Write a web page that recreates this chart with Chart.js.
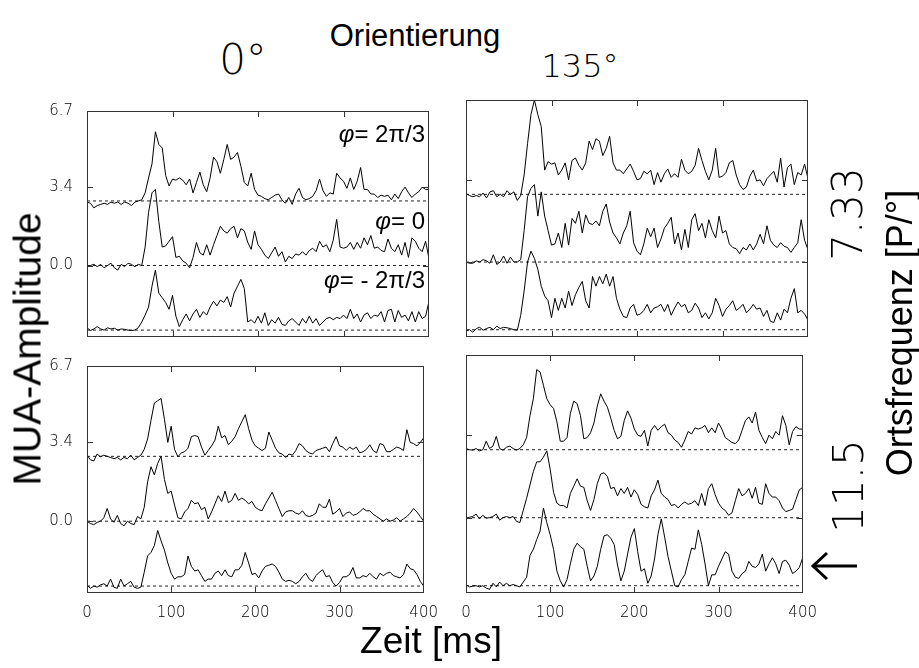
<!DOCTYPE html>
<html>
<head>
<meta charset="utf-8">
<script src="https://cdn.jsdelivr.net/npm/chart.js@4.4.1/dist/chart.umd.min.js"></script>
<style>
  body { margin: 0; width: 919px; height: 668px; background: #fff; position: relative; overflow: hidden;
         font-family: "Liberation Sans", Arial, sans-serif; color: #000; }
  canvas.panel { position: absolute; }
  .lbl { position: absolute; white-space: nowrap; line-height: 1; }
  .thin { font-family: "DejaVu Sans", sans-serif; font-weight: 200; }
  .ctr { transform: translate(-50%, -50%); }
  .rot { transform: translate(-50%, -50%) rotate(-90deg); }
  .phi { right: 494px; transform: translateY(-50%); font-size: 24px; }
</style>
</head>
<body>

<canvas id="tl" class="panel"></canvas>
<canvas id="tr" class="panel"></canvas>
<canvas id="bl" class="panel"></canvas>
<canvas id="br" class="panel"></canvas>

<div class="lbl ctr" style="left:415px; top:35px; font-size:31px;">Orientierung</div>
<div class="lbl ctr thin" style="left:243px; top:60px; font-size:42px;">0°</div>
<div class="lbl ctr thin" style="left:580px; top:66px; font-size:32px;">135°</div>
<div class="lbl rot" style="left:27px; top:349px; font-size:39px;">MUA-Amplitude</div>
<div class="lbl ctr" style="left:431px; top:640px; font-size:37px;">Zeit [ms]</div>
<div class="lbl rot thin" style="left:848px; top:214px; font-size:42px;">7.33</div>
<div class="lbl rot thin" style="left:849px; top:486px; font-size:42px;">11.5</div>
<div class="lbl rot" style="left:900px; top:333px; font-size:36px;">Ortsfrequenz [P/°]</div>

<div class="lbl phi" style="top:134px;"><i>φ</i>= 2π/3</div>
<div class="lbl phi" style="top:221px;"><i>φ</i>= 0</div>
<div class="lbl phi" style="top:280px;"><i>φ</i>= - 2π/3</div>

<svg style="position:absolute; left:0; top:0;" width="919" height="668">
  <g stroke="#000" stroke-width="3" fill="none">
    <line x1="813" y1="566" x2="857" y2="566"/>
    <polyline points="827,553 813,566 827,579"/>
  </g>
</svg>

<script>
// time base in ms (one sample every 4 ms)
var zeit = [0,4,8,12,16,20,24,28,32,36,40,44,48,52,56,60,64,68,72,76,
  80,84,88,92,96,100,104,108,112,116,120,124,128,132,136,140,144,148,152,156,
  160,164,168,172,176,180,184,188,192,196,200,204,208,212,216,220,224,228,232,236,
  240,244,248,252,256,260,264,268,272,276,280,284,288,292,296,300,304,308,312,316,
  320,324,328,332,336,340,344,348,352,356,360,364,368,372,376,380,384,388,392,396,400];

// baseline of each phase trace (phi = 2pi/3, 0, -2pi/3)
var offsets = [2.8, 0, -2.8];
var xTicks = [0, 100, 200, 300, 400];
var yTicks = [0, 3.4, 6.7];

// orientation 0 deg, spatial frequency 7.33
var o0_f733_p2 = [-0.05,-0.1,-0.3,-0.2,-0.15,-0.1,-0.15,-0.05,-0.1,-0.05,
  -0.15,-0.05,-0.1,-0.2,-0.05,0,0.05,0.35,1.0,1.6,
  3.0,2.45,2.3,1.1,0.65,0.95,0.9,1.0,0.9,0.7,
  0.95,0.35,0.8,1.25,0.7,0.4,1.0,1.9,1.7,1.2,
  1.8,2.45,1.8,1.9,2.1,1.5,0.8,0.65,1.2,0.5,
  0.25,0.2,0.1,0.05,0.15,0.25,0.3,0.05,-0.1,0.15,
  -0.15,0.3,0.55,0.15,0.05,0.1,0.2,0.45,0.95,0.45,
  0.2,0.35,0.3,1.2,1.0,0.85,0.55,1.0,0.5,0.85,
  1.45,0.5,0.5,0.3,0.3,0.15,0.25,0.2,0.25,0.05,
  0.3,0.1,0.4,0.6,0.35,0.15,0.3,0.4,0.6,0.5,0.5];
var o0_f733_p0 = [-0.05,0,0.05,-0.05,0.05,-0.1,0,0.1,-0.1,-0.2,
  0.05,-0.05,0.1,0.05,-0.05,0.05,0,0.8,2.3,3.15,
  3.3,1.9,0.8,0.85,1.05,1.25,0.35,0.4,0.2,0.1,
  -0.1,0.35,1.0,0.55,0.45,0.9,0.45,0.9,1.3,1.7,
  1.5,1.4,1.6,1.7,1.2,1.6,1.5,1.0,0.7,1.5,
  0.9,0.7,0.45,0.3,0.55,0.8,0.4,0.6,0.15,0.4,
  0.3,0.5,0.45,0.6,0.45,0.65,0.75,0.6,1.05,0.8,
  0.9,0.6,1.1,2.0,0.8,0.75,0.8,1.0,0.7,1.0,
  0.75,1.2,0.9,1.3,0.75,0.8,0.65,0.6,1.15,0.75,
  0.6,0.9,0.45,1.0,0.35,1.2,1.05,0.75,0.6,1.05,0.3];
var o0_f733_m2 = [0.1,-0.02,0.05,0.15,0.05,0,0.1,0.05,0.08,0,
  0.05,0.03,0,-0.02,0,0.1,0.35,0.65,1.0,1.9,
  2.6,1.6,1.4,1.2,0.9,1.5,0.6,0.15,0.45,0.7,
  0.4,0.7,0.9,0.55,0.8,0.65,1.0,1.25,1.05,1.3,
  1.2,1.45,1.0,1.6,1.9,2.2,1.8,0.35,0.45,0.3,
  0.6,0.3,0.75,0.2,0.45,0.3,0.55,0.25,0.2,0.4,
  0.5,0.35,0.2,0.5,0.3,0.6,0.3,0.5,0.2,0.35,
  0.5,0.55,0.45,0.55,0.5,0.65,0.5,0.9,0.5,0.7,
  0.35,0.65,0.75,0.5,0.65,0.6,0.8,0.35,0.85,0.9,
  0.35,0.85,0.55,0.65,0.4,0.8,0.35,0.8,0.5,0.6,1.25];

// orientation 135 deg, spatial frequency 7.33
var o135_f733_p2 = [0.03,-0.05,-0.1,-0.05,-0.1,0.05,-0.15,0.1,0.15,-0.1,
  0,-0.1,0.15,0,0.1,-0.25,-0.05,0.8,2.1,3.3,
  3.9,3.3,2.8,1.0,1.35,1.25,1.3,0.8,1.0,1.3,
  0.6,1.4,1.5,1.2,1.0,1.3,2.2,1.85,2.3,2.2,
  1.6,1.9,2.4,1.3,1.0,1.0,0.85,1.05,1.25,0.95,
  0.6,0.65,0.95,0.85,1.0,0.4,0.9,0.5,0.85,1.05,
  0.7,0.85,0.7,1.45,1.0,0.85,0.95,1.2,1.9,1.4,
  0.95,0.6,1.0,1.9,0.7,0.75,0.9,1.3,1.4,0.8,
  0.4,0.2,0.3,0.75,1.0,0.55,0.6,0.35,0.65,0.8,
  0.95,0.5,1.5,0.3,1.1,1.25,0.4,0.9,0.8,1.25,0.65];
var o135_f733_p0 = [0,-0.05,-0.05,0.05,0,0.1,0.05,-0.05,0.3,-0.1,
  0,0.25,-0.05,0.2,0,0,0.1,1.3,2.7,3.05,
  3.2,1.9,2.9,1.9,1.3,0.7,0.75,1.2,0.6,1.6,
  0.7,1.8,1.6,2.1,1.2,1.95,1.6,1.55,1.7,1.5,
  2.1,2.4,1.65,1.2,1.0,0.75,1.2,1.5,2.1,0.8,
  0.45,0.3,0.75,1.4,1.05,1.4,0.6,0.95,1.4,1.6,
  1.85,0.75,1.2,0.5,1.35,0.6,1.75,2.0,1.3,1.6,
  1.0,1.75,1.3,1.0,1.9,1.2,1.3,0.75,0.6,0.55,
  0.35,0.6,0.5,0.75,0.5,0.75,1.15,0.75,1.5,0.9,
  0.7,0.6,0.8,0.65,0.6,0.4,0.6,0.8,1.75,0.9,0.5];
var o135_f733_m2 = [-0.05,0,-0.1,0.05,0.1,-0.02,0.05,0.1,0,0.15,
  0.05,0.1,0.08,0.05,0,-0.02,0.6,1.6,2.8,3.25,
  2.95,2.5,1.8,1.4,1.2,0.5,1.3,0.8,1.3,0.9,
  1.6,1.0,1.45,1.75,2.0,1.2,0.9,2.2,1.8,2.2,
  1.9,2.3,1.8,2.2,1.3,0.85,0.55,0.5,0.9,1.05,
  0.6,0.65,0.8,1.05,0.7,0.9,0.95,1.05,0.75,1.05,
  0.6,0.9,1.15,0.95,1.05,0.7,0.8,1.1,0.9,0.5,
  0.7,0.45,0.7,1.3,1.0,0.55,0.85,1.0,1.2,0.8,
  0.9,1.05,0.7,0.85,1.05,0.85,0.9,0.55,0.8,0.35,
  0.3,0.7,0.4,0.85,0.7,1.3,1.7,0.7,0.8,0.65,0.4];

// orientation 0 deg, spatial frequency 11.5
var o0_f115_p2 = [0.05,-0.15,-0.2,0.1,-0.02,0.05,0,-0.05,-0.1,-0.05,
  -0.15,-0.05,-0.1,0.05,-0.15,-0.05,0.05,0.3,0.75,1.55,
  2.3,2.4,2.5,1.6,0.6,1.3,0.3,-0.02,0.15,0.2,
  0.35,0.85,0.9,0.85,0.4,0.05,0.25,0.45,0.7,1.3,
  0.8,0.9,0.5,0.65,0.85,1.2,1.5,1.8,1.2,0.7,
  0.45,0.35,0.25,0.35,1.05,0.7,0.35,0.15,0.1,-0.05,
  0.1,0.05,0.25,0.55,0.45,0.25,0.15,0.1,0.25,0.3,
  0.35,0.4,0.2,0.55,0.85,0.45,0.4,0.25,0.4,0.3,
  0.4,0.15,0.2,0.3,0.5,0.25,0.15,0.55,0.5,0.2,
  0.2,0.3,0.4,0.35,0.25,1.15,0.6,0.55,0.45,0.6,0.8];
var o0_f115_p0 = [0,-0.1,-0.15,-0.05,0,0.15,0.55,0.1,-0.05,0.25,
  -0.1,-0.2,0,-0.1,-0.15,0.2,0.1,0.6,1.7,2.35,
  2.0,2.5,2.8,1.8,1.2,1.3,0.7,0.15,0.1,0.4,
  0.55,0.9,0.75,0.8,0.5,0.6,0.1,0.4,0.75,1.1,
  0.85,1.3,0.8,0.9,1.2,0.9,1.0,0.9,0.75,0.85,
  0.6,0.5,0.45,0.75,1.0,1.25,0.9,0.55,0.2,0.4,
  0.45,0.45,0.35,0.3,0.45,0.25,0.2,0.25,0.35,0.75,
  0.6,0.6,0.95,0.3,0.4,0.55,0.2,0.35,0.4,0.25,
  0.3,0.4,0.55,0.45,0.45,0.3,0.2,0.1,0,0.1,
  0,0.05,0.15,0,0.1,0.2,0.35,0.55,0.4,0.2,0];
var o0_f115_m2 = [0.05,-0.1,0,-0.05,0.05,0.1,0,0.3,-0.05,-0.1,
  0.3,0,0.1,0.2,-0.05,-0.1,-0.05,0.6,1.3,1.45,
  1.75,2.4,1.95,1.55,1.0,0.55,0.3,0.4,0.4,0.5,
  1.3,0.85,0.65,0.7,0.45,0.2,0.3,0.3,0.55,0.65,
  0.45,0.7,0.45,0.4,0.7,0.7,0.9,1.45,1.0,0.5,
  0.55,0.35,0.65,0.85,0.9,0.95,0.85,0.6,0.3,0.2,
  0.25,0.2,0.1,0.2,0.4,0.55,0.3,0.2,0.45,0.6,
  0.7,0.4,0.45,0.15,0,0.15,0.4,0.4,0.5,0.8,
  0.35,0.35,0.45,0.4,0.55,0.4,0.3,0.55,0.45,0.55,
  0.6,0.45,0.4,0.35,0.5,0.95,0.75,0.7,0.5,0.2,0];

// orientation 135 deg, spatial frequency 11.5
var o135_f115_p2 = [0.05,0,-0.02,0.05,-0.05,0,0.35,0.05,0.15,0.55,
  0.05,-0.02,0.1,0.15,0.05,-0.02,0.05,0.2,0.5,1.4,
  2.1,3.3,3.2,2.65,2.1,1.85,1.7,1.15,0.35,0.35,
  0.5,1.5,2.0,1.9,1.4,0.45,0.5,0.7,1.1,1.8,
  2.3,2.0,1.75,1.3,0.8,0.45,0.55,1.2,1.6,1.3,
  0.85,0.6,0.55,0.8,0.15,0.8,1.0,0.8,0.95,1.05,
  0.7,0.6,0.4,0.3,0.1,0.4,0.75,0.65,0.9,0.85,
  0.9,1.0,0.7,0.9,0.7,1.1,0.85,0.5,0.4,0.3,
  0.25,0.4,0.8,1.2,1.35,1.1,1.55,0.8,0.5,0.25,
  0.6,0.45,0.75,0.6,1.4,1.0,0.2,0.75,0.95,0.85,0.85];
var o135_f115_p0 = [-0.05,0.02,0.05,0.15,-0.05,0.1,-0.02,0,0.05,0.15,
  -0.1,0,0.05,0,0.05,-0.15,-0.2,0.3,0.8,1.35,
  1.9,2.3,2.3,2.5,2.75,2.0,1.05,0.6,0.5,0.5,
  0.4,1.0,1.3,1.6,1.3,1.25,0.7,0.3,0.75,1.4,
  1.8,1.85,1.7,1.2,1.25,0.9,1.2,1.0,1.25,0.85,
  1.15,0.95,0.55,0.45,0.4,0.9,1.15,1.55,1.0,0.85,
  0.75,0.5,0.55,0.4,0.55,0.65,0.55,0.6,0.7,0.5,
  1.0,0.5,1.2,1.4,0.95,0.6,0.4,0.3,0.1,0.2,
  0.7,1.2,0.9,1.0,1.2,0.8,1.25,0.6,0.55,1.4,
  1.0,0.85,0.85,0.7,0.4,0.25,0.3,0.35,0.75,1.15,1.25];
var o135_f115_m2 = [0.05,-0.05,-0.02,0,-0.05,0,-0.1,-0.15,0.1,-0.05,
  0.15,0,0.1,0,0.05,0,-0.05,0.15,0.35,1.25,
  1.5,1.9,2.25,3.2,2.6,2.1,1.5,0.6,0.2,-0.05,
  0.25,0.9,1.5,1.75,1.6,1.5,0.8,0.2,0.4,0.8,
  1.5,2.05,2.1,1.95,1.7,0.85,0.2,0.6,1.3,2.0,
  2.35,1.4,0.6,0.7,0.1,0.4,1.1,2.1,2.75,2.0,
  1.2,0.6,0,-0.05,0.25,0.45,1.0,1.55,1.5,2.3,
  1.7,0.9,0,0.45,0.45,0.8,1.1,1.4,1.3,0.6,
  0.35,0.3,0.5,0.6,1.0,0.8,0.75,0.9,1.3,0.6,
  0.9,1.15,0.9,0.5,1.0,1.05,0.85,0.5,0.6,0.75,1.15];

// plot rectangles on the page
var panels = [
  { id: 'tl', x: 87,  y: 100, w: 342, h: 237, traces: [o0_f733_p2, o0_f733_p0, o0_f733_m2],       xLab: false, yLab: true },
  { id: 'tr', x: 466, y: 100, w: 342, h: 237, traces: [o135_f733_p2, o135_f733_p0, o135_f733_m2], xLab: false, yLab: false },
  { id: 'bl', x: 87,  y: 355, w: 342, h: 238, traces: [o0_f115_p2, o0_f115_p0, o0_f115_m2],       xLab: true,  yLab: true },
  { id: 'br', x: 466, y: 355, w: 342, h: 238, traces: [o135_f115_p2, o135_f115_p0, o135_f115_m2], xLab: true,  yLab: false }
];
var PAD_L = 80, PAD_T = 12, PAD_R = 20, PAD_B = 28;

// box around the plot with short inward tick marks on all four sides
var framePlugin = {
  id: 'frame',
  afterDatasetsDraw: function(chart) {
    var a = chart.chartArea, ctx = chart.ctx;
    var xs = chart.scales.x, ys = chart.scales.y;
    var len = 6;
    ctx.save();
    ctx.strokeStyle = '#333';
    ctx.lineWidth = 1;
    ctx.strokeRect(Math.round(a.left) + 0.5, Math.round(a.top) + 0.5,
                   Math.round(a.right - a.left) - 1, Math.round(a.bottom - a.top) - 1);
    ctx.beginPath();
    xTicks.slice(1, -1).forEach(function(v) {
      var px = Math.round(xs.getPixelForValue(v)) + 0.5;
      ctx.moveTo(px, a.top); ctx.lineTo(px, a.top + len);
      ctx.moveTo(px, a.bottom); ctx.lineTo(px, a.bottom - len);
    });
    yTicks.forEach(function(v) {
      if (v <= ys.min || v >= ys.max) return;
      var py = Math.round(ys.getPixelForValue(v)) + 0.5;
      ctx.moveTo(a.left, py); ctx.lineTo(a.left + len, py);
      ctx.moveTo(a.right, py); ctx.lineTo(a.right - len, py);
    });
    ctx.stroke();
    ctx.restore();
  }
};

var tickFont = { family: 'DejaVu Sans', weight: '200', size: 15 };

function makePanel(p) {
  var canvas = document.getElementById(p.id);
  canvas.width = p.w + PAD_L + PAD_R;
  canvas.height = p.h + PAD_T + PAD_B;
  canvas.style.left = (p.x - PAD_L) + 'px';
  canvas.style.top = (p.y - PAD_T) + 'px';

  var datasets = p.traces.map(function(tr, i) {
    return {
      data: zeit.map(function(t, k) { return { x: t, y: tr[k] + offsets[i] }; }),
      borderColor: '#000',
      borderWidth: 1,
      pointRadius: 0,
      tension: 0
    };
  });
  // dashed zero lines under each trace
  offsets.forEach(function(o) {
    datasets.push({
      data: [{ x: 0, y: o }, { x: 400, y: o }],
      borderColor: '#222',
      borderWidth: 1,
      borderDash: [3, 3],
      pointRadius: 0
    });
  });

  return new Chart(canvas, {
    type: 'line',
    data: { datasets: datasets },
    options: {
      responsive: false,
      animation: false,
      layout: { padding: { top: PAD_T, right: PAD_R, left: 0, bottom: 0 } },
      plugins: { legend: { display: false }, tooltip: { enabled: false } },
      scales: {
        x: {
          type: 'linear', min: 0, max: 400,
          afterBuildTicks: function(s) { s.ticks = xTicks.map(function(v) { return { value: v }; }); },
          afterFit: function(s) { s.height = PAD_B; },
          grid: { display: false, drawTicks: false },
          border: { display: false },
          ticks: { display: p.xLab, padding: 11, font: tickFont, color: '#000', maxRotation: 0, autoSkip: false }
        },
        y: {
          type: 'linear', min: -3.1, max: 6.7,
          afterBuildTicks: function(s) { s.ticks = yTicks.map(function(v) { return { value: v }; }); },
          afterFit: function(s) { s.width = PAD_L; },
          grid: { display: false, drawTicks: false },
          border: { display: false },
          ticks: {
            display: p.yLab, padding: 14, font: tickFont, color: '#000',
            callback: function(v) { return v.toFixed(1); }
          }
        }
      }
    },
    plugins: [framePlugin]
  });
}

panels.forEach(makePanel);
</script>
</body>
</html>
